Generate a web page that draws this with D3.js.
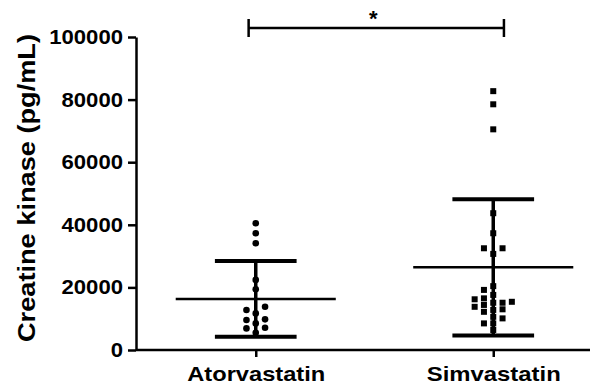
<!DOCTYPE html>
<html>
<head>
<meta charset="utf-8">
<script src="https://cdn.jsdelivr.net/npm/d3@7"></script>
<style>
  html, body { margin: 0; padding: 0; background: #fff; }
  svg { display: block; }
</style>
</head>
<body>
<script>
// ---------- data ----------
const categories = ["Atorvastatin", "Simvastatin"];
const atorvastatinValues = [40500, 37300, 34100, 22400, 19400, 13800, 12800, 11700, 9800, 9600, 8500, 7100, 6900, 5500];
const simvastatinValues = [82700, 78500, 70500, 43700, 37300, 32500, 32500, 30700, 20400, 19200, 17600, 16500, 16200,
  15400, 15100, 15100, 14400, 13800, 13000, 12800, 12200, 10600, 10100, 8500, 8500, 6400];
const means = [16300, 26400];
const sds = [12100, 21800];
const yTicks = [0, 20000, 40000, 60000, 80000, 100000];
const yLabel = "Creatine kinase (pg/mL)";
const sigLabel = "*";

// ---------- chart ----------
const W = 603, H = 390;
const svg = d3.select("body").append("svg").attr("width", W).attr("height", H);
const font = "'Liberation Sans', Arial, Helvetica, sans-serif";

const y = d3.scaleLinear().domain([0, 100000]).range([350, 37]);
const x = d3.scalePoint().domain(categories).range([137, 612]).padding(0.5);
const step = x.step();

// Y axis
const gy = svg.append("g").attr("transform", "translate(136,0)")
  .call(d3.axisLeft(y).tickValues(yTicks).tickSize(8).tickSizeOuter(0).tickPadding(5).tickFormat(d3.format("d")));
gy.select(".domain").attr("stroke", "#000").attr("stroke-width", 2.5);
gy.selectAll(".tick line").attr("stroke", "#000").attr("stroke-width", 2.5);
gy.selectAll(".tick text")
  .attr("fill", "#000")
  .style("font-family", font).style("font-weight", "bold").style("font-size", "20px")
  .attr("textLength", d => String(d).length * 12.3)
  .attr("lengthAdjust", "spacingAndGlyphs");

// X axis
const gx = svg.append("g").attr("transform", "translate(0,350)")
  .call(d3.axisBottom(x).tickSize(7).tickSizeOuter(0).tickPadding(9));
gx.select(".domain").attr("d", "M136,0H590").attr("stroke", "#000").attr("stroke-width", 2.5);
gx.selectAll(".tick line").attr("stroke", "#000").attr("stroke-width", 2.5);
gx.selectAll(".tick text")
  .attr("fill", "#000")
  .style("font-family", font).style("font-weight", "bold").style("font-size", "21px")
  .attr("textLength", d => d === "Atorvastatin" ? 138 : 134)
  .attr("lengthAdjust", "spacingAndGlyphs");

// Y label
svg.append("text")
  .attr("transform", "translate(35,188) rotate(-90)")
  .attr("text-anchor", "middle")
  .style("font-family", font).style("font-weight", "bold").style("font-size", "24px")
  .attr("textLength", 308).attr("lengthAdjust", "spacingAndGlyphs")
  .text(yLabel);

// beeswarm layout (greedy, deterministic)
function swarm(values, colW, minDy) {
  const sorted = values.slice().sort((a, b) => a - b);
  const placed = [];
  const order = [0, -1, 1, -2, 2, 3, -3, 4, -4];
  sorted.forEach(v => {
    const py = y(v);
    for (const c of order) {
      const clash = placed.some(p => p.c === c && Math.abs(p.py - py) < minDy);
      if (!clash) { placed.push({ v, py, c }); break; }
    }
  });
  return placed.map(p => ({ v: p.v, py: p.py, dx: p.c * colW }));
}

// points
const a = swarm(atorvastatinValues, 9.3, 6.6);
svg.append("g").selectAll("circle").data(a).join("circle")
  .attr("cx", d => x(categories[0]) + d.dx)
  .attr("cy", d => y(d.v))
  .attr("r", 3.3)
  .attr("fill", "#000");

const s = swarm(simvastatinValues, 9.3, 6.4);
svg.append("g").selectAll("rect").data(s).join("rect")
  .attr("x", d => x(categories[1]) + d.dx - 3)
  .attr("y", d => y(d.v) - 3)
  .attr("width", 6).attr("height", 6)
  .attr("fill", "#000");

// mean and SD bars
const gb = svg.append("g").attr("stroke", "#000");
categories.forEach((c, i) => {
  const cx = x(c);
  const lo = y(means[i] - sds[i]), hi = y(means[i] + sds[i]), m = y(means[i]);
  gb.append("line").attr("x1", cx).attr("x2", cx).attr("y1", lo).attr("y2", hi).attr("stroke-width", 3.5);
  gb.append("line").attr("x1", cx - step * 0.172).attr("x2", cx + step * 0.172).attr("y1", hi).attr("y2", hi).attr("stroke-width", 4);
  gb.append("line").attr("x1", cx - step * 0.172).attr("x2", cx + step * 0.172).attr("y1", lo).attr("y2", lo).attr("stroke-width", 4);
  gb.append("line").attr("x1", cx - step * 0.337).attr("x2", cx + step * 0.337).attr("y1", m).attr("y2", m).attr("stroke-width", 2.5);
});

// significance bracket
const sx0 = x(categories[0]) - step * 0.03, sx1 = x(categories[1]) + step * 0.045;
const sy = y(100000) - 9;
const gs = svg.append("g").attr("stroke", "#000").attr("stroke-width", 2.5);
gs.append("line").attr("x1", sx0).attr("x2", sx1).attr("y1", sy).attr("y2", sy);
gs.append("line").attr("x1", sx0).attr("x2", sx0).attr("y1", sy - 9).attr("y2", sy + 9);
gs.append("line").attr("x1", sx1).attr("x2", sx1).attr("y1", sy - 9).attr("y2", sy + 9);
svg.append("text")
  .attr("x", (sx0 + sx1) / 2 - 3).attr("y", sy - 2)
  .attr("text-anchor", "middle")
  .style("font-family", font).style("font-weight", "bold").style("font-size", "22px")
  .text(sigLabel);
</script>
</body>
</html>
